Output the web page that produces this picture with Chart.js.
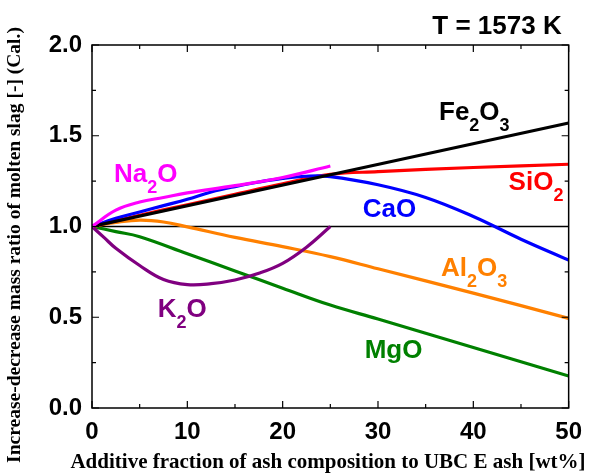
<!DOCTYPE html>
<html>
<head>
<meta charset="utf-8">
<script src="https://cdn.jsdelivr.net/npm/chart.js@4.4.0/dist/chart.umd.min.js"></script>
<style>
  html, body { margin: 0; padding: 0; background: #fff; }
  #wrap { width: 592px; height: 473px; position: relative; }
</style>
</head>
<body>
<div id="wrap"><canvas id="slagChart"></canvas></div>
<script>
// additive fraction [wt%] and mass ratio [-] for each oxide
const fe2o3X = [0, 50];
const fe2o3Y = [1.0, 1.57];
const sio2X = [0, 5, 10, 15, 20, 25, 30, 40, 50];
const sio2Y = [1.0, 1.062, 1.12, 1.178, 1.235, 1.287, 1.302, 1.325, 1.343];
const caoX = [0, 2.5, 5, 7.5, 10, 12.5, 15, 17.5, 20, 22.5, 25, 30, 35, 40, 45, 50];
const caoY = [1.0, 1.045, 1.08, 1.115, 1.15, 1.19, 1.22, 1.245, 1.265, 1.277, 1.275, 1.23, 1.16, 1.055, 0.93, 0.815];
const na2oX = [0, 2.5, 5, 7.5, 10, 15, 20, 25];
const na2oY = [1.0, 1.09, 1.135, 1.16, 1.185, 1.225, 1.27, 1.333];
const al2o3X = [0, 2.5, 5, 7.5, 10, 15, 20, 25, 30, 40, 50];
const al2o3Y = [1.0, 1.022, 1.035, 1.025, 0.998, 0.94, 0.889, 0.834, 0.767, 0.633, 0.494];
const mgoX = [0, 2.5, 5, 10, 15, 20, 25, 30, 40, 50];
const mgoY = [1.0, 0.972, 0.944, 0.85, 0.755, 0.66, 0.567, 0.49, 0.333, 0.176];
const k2oX = [0, 1.25, 2.5, 5, 7.5, 10, 12.5, 15, 17.5, 20, 22.5, 25];
const k2oY = [1.0, 0.94, 0.88, 0.785, 0.708, 0.68, 0.685, 0.705, 0.742, 0.797, 0.886, 1.0];
const baseX = [0, 50];
const baseY = [1.0, 1.0];

const xTicks = [0, 10, 20, 30, 40, 50];
const yTicks = [0.0, 0.5, 1.0, 1.5, 2.0];

// label text: [main, sub, main, sub], anchor in data units (left x, baseline y)
const curveLabels = [
  { parts: ['Fe', '2', 'O', '3'], x: 36.4, y: 1.587, color: '#000000' },
  { parts: ['SiO', '2'], x: 43.7, y: 1.201, color: '#ff0000' },
  { parts: ['CaO'], x: 28.4, y: 1.051, color: '#0000ff' },
  { parts: ['Al', '2', 'O', '3'], x: 36.6, y: 0.727, color: '#ff8000' },
  { parts: ['MgO'], x: 28.6, y: 0.277, color: '#008000' },
  { parts: ['Na', '2', 'O'], x: 2.3, y: 1.247, color: '#ff00ff' },
  { parts: ['K', '2', 'O'], x: 6.9, y: 0.503, color: '#800080' }
];

const SANS = '"Liberation Sans", Arial, sans-serif';
const SERIF = '"Liberation Serif", "Times New Roman", serif';

function pts(xs, ys) {
  return xs.map((x, i) => ({ x: x, y: ys[i] }));
}

function line(label, xs, ys, color, width) {
  return {
    label: label,
    data: pts(xs, ys),
    borderColor: color,
    borderWidth: width,
    pointRadius: 0,
    fill: false,
    tension: 0.4
  };
}

// frame, inward ticks, titles and curve labels
const decorPlugin = {
  id: 'decor',
  afterDraw(chart) {
    const ctx = chart.ctx;
    const a = chart.chartArea;
    const xs = chart.scales.x;
    const ys = chart.scales.y;
    ctx.save();
    ctx.strokeStyle = '#000';
    ctx.lineWidth = 1.5;
    ctx.strokeRect(a.left, a.top, a.right - a.left, a.bottom - a.top);

    ctx.lineWidth = 1.2;
    ctx.beginPath();
    for (let v = 0; v <= 50; v += 5) {
      const px = xs.getPixelForValue(v);
      const len = v % 10 === 0 ? 7 : 4;
      ctx.moveTo(px, a.bottom); ctx.lineTo(px, a.bottom - len);
      ctx.moveTo(px, a.top); ctx.lineTo(px, a.top + len);
    }
    for (let v = 0; v <= 2.0001; v += 0.25) {
      const py = ys.getPixelForValue(v);
      const major = Math.abs(v * 2 - Math.round(v * 2)) < 1e-6;
      const len = major ? 7 : 4;
      ctx.moveTo(a.left, py); ctx.lineTo(a.left + len, py);
      ctx.moveTo(a.right, py); ctx.lineTo(a.right - len, py);
    }
    ctx.stroke();

    // curve labels with subscripts
    ctx.textBaseline = 'alphabetic';
    ctx.textAlign = 'left';
    curveLabels.forEach(lb => {
      let px = xs.getPixelForValue(lb.x);
      const py = ys.getPixelForValue(lb.y);
      ctx.fillStyle = lb.color;
      lb.parts.forEach((t, i) => {
        const sub = i % 2 === 1;
        ctx.font = sub ? 'bold 18px ' + SANS : 'bold 26px ' + SANS;
        ctx.fillText(t, px, sub ? py + 11 : py);
        px += ctx.measureText(t).width;
      });
    });

    // temperature note
    ctx.fillStyle = '#000';
    ctx.font = 'bold 26px ' + SANS;
    ctx.textAlign = 'right';
    ctx.fillText('T = 1573 K', a.right - 7, a.top - 11);

    // axis titles
    ctx.font = 'bold 21px ' + SERIF;
    ctx.textAlign = 'center';
    ctx.fillText('Additive fraction of ash composition to UBC E ash [wt%]', 328, 468);
    ctx.font = 'bold 19.5px ' + SERIF;
    ctx.save();
    ctx.translate(20, 245);
    ctx.rotate(-Math.PI / 2);
    ctx.fillText('Increase-decrease mass ratio of molten slag [-] (Cal.)', 0, 0);
    ctx.restore();
    ctx.restore();
  }
};

new Chart(document.getElementById('slagChart'), {
  type: 'line',
  data: {
    datasets: [
      line('Na2O', na2oX, na2oY, '#ff00ff', 3.2),
      line('K2O', k2oX, k2oY, '#800080', 3.2),
      line('Fe2O3', fe2o3X, fe2o3Y, '#000000', 3.2),
      line('CaO', caoX, caoY, '#0000ff', 3.2),
      line('SiO2', sio2X, sio2Y, '#ff0000', 3.2),
      line('Al2O3', al2o3X, al2o3Y, '#ff8000', 3.2),
      line('MgO', mgoX, mgoY, '#008000', 3.2),
      line('base', baseX, baseY, '#000000', 1.5)
    ]
  },
  options: {
    responsive: true,
    maintainAspectRatio: false,
    animation: false,
    layout: { padding: { top: 45, right: 20, left: 0, bottom: 0 } },
    plugins: { legend: { display: false }, tooltip: { enabled: false } },
    scales: {
      x: {
        type: 'linear',
        min: 0,
        max: 50,
        grid: { display: false, drawTicks: false },
        border: { display: false },
        afterFit(scale) { scale.height = 65; },
        afterBuildTicks(scale) { scale.ticks = xTicks.map(v => ({ value: v })); },
        ticks: {
          color: '#000',
          padding: 10,
          maxRotation: 0,
          font: { family: SANS, size: 24, weight: 'bold' },
          callback: v => String(v)
        }
      },
      y: {
        type: 'linear',
        min: 0,
        max: 2.0,
        grid: { display: false, drawTicks: false },
        border: { display: false },
        afterFit(scale) { scale.width = 92; },
        afterBuildTicks(scale) { scale.ticks = yTicks.map(v => ({ value: v })); },
        ticks: {
          color: '#000',
          padding: 10,
          font: { family: SANS, size: 24, weight: 'bold' },
          callback: v => v.toFixed(1)
        }
      }
    }
  },
  plugins: [decorPlugin]
});
</script>
</body>
</html>
